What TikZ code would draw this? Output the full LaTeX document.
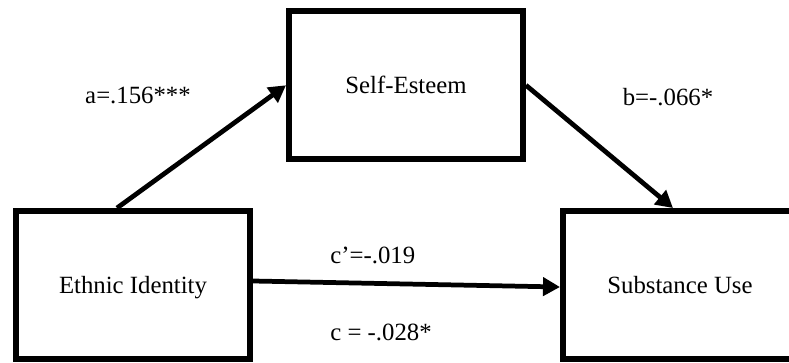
\documentclass[tikz,border=0pt]{standalone}
\usepackage{fontspec}
\setmainfont{Liberation Serif}
\usepackage{tikz}
\usetikzlibrary{arrows.meta, positioning}
\tikzset{
	varbox/.style={draw, line width=3.4pt, minimum width=4.68cm, minimum height=2.96cm, text depth=0pt, font=\fontsize{14.1}{17}\selectfont},
	patharr/.style={-{Triangle[length=0.34cm, width=0.36cm]}, line width=2.7pt},
	coeflabel/.style={font=\fontsize{14.1}{17}\selectfont, inner sep=0pt},
}

\begin{document}
\begin{tikzpicture}
				\useasboundingbox (0,0) rectangle (15.78,-7.24);
				\node[varbox] (eth) at (2.66,-5.70) {Ethnic Identity};
				\node[varbox] (self) at (8.12,-1.705) {Self-Esteem};
				\node[varbox] (sub) at (13.60,-5.70) {Substance Use};
				\draw[patharr] ([xshift=-0.32cm]eth.north) -- (self.west);
				\draw[patharr] (self.east) -- ([xshift=-0.14cm]sub.north);
				\draw[patharr] ([yshift=0.08cm]eth.east) -- ([yshift=-0.04cm]sub.west);
				% path coefficients
				\node[coeflabel, anchor=base] (alab) at (2.76,-2.06) {a=.156***};
				\node[coeflabel, anchor=base] (blab) at (13.36,-2.10) {b=-.066*};
				\node[coeflabel, anchor=base west] (cplab) at (6.60,-5.27) {c’=-.019};
				\node[coeflabel, anchor=base west] (clab) at (6.60,-6.80) {c = -.028*};
			\end{tikzpicture}
\end{document}
